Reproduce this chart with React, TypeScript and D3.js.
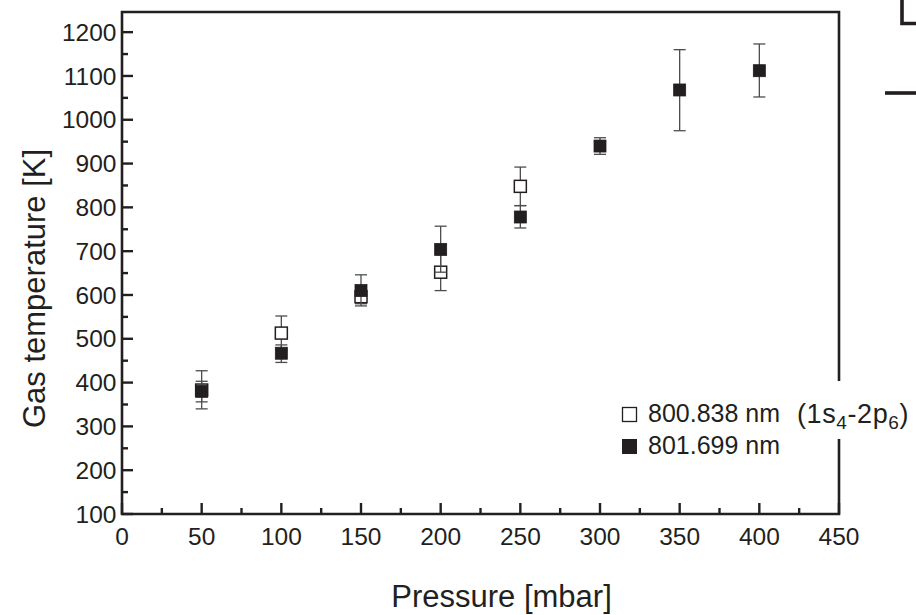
import React from 'react';
import * as d3 from 'd3';

// ---- data ----
const openPressure = [50, 100, 150, 200, 250];
const openTemp = [383, 513, 596, 652, 848];
const openLow = [340, 474, 580, 610, 804];
const openHigh = [427, 552, 612, 695, 892];

const filledPressure = [50, 100, 150, 200, 250, 300, 350, 400];
const filledTemp = [380, 467, 610, 704, 778, 940, 1068, 1112];
const filledLow = [356, 446, 575, 652, 753, 921, 975, 1052];
const filledHigh = [403, 486, 646, 757, 804, 959, 1160, 1173];

const xMajorTicks = [0, 50, 100, 150, 200, 250, 300, 350, 400, 450];
const xMinorTicks = [25, 75, 125, 175, 225, 275, 325, 375, 425];
const yMajorTicks = [100, 200, 300, 400, 500, 600, 700, 800, 900, 1000, 1100, 1200];
const yMinorTicks = [150, 250, 350, 450, 550, 650, 750, 850, 950, 1050, 1150];

const legendLabels = ['800.838 nm', '801.699 nm'];
const xTitle = 'Pressure [mbar]';
const yTitle = 'Gas temperature [K]';

const INK = '#231f20';
const ERR = '#4d4d4d';
const FONT = '"Liberation Sans", Arial, Helvetica, sans-serif';

export default function App() {
  const left = 122, right = 839, top = 12, bottom = 514;
  const x = d3.scaleLinear().domain([0, 450]).range([left, right]);
  const y = d3.scaleLinear().domain([100, 1246]).range([bottom, top]);
  const ms = 12;
  const cap = 6;

  const errBar = (px: number, lo: number, hi: number, key: string) => {
    const cx = x(px);
    return (
      <g key={key} stroke={ERR} strokeWidth={1.3}>
        <line x1={cx} x2={cx} y1={y(lo)} y2={y(hi)} />
        <line x1={cx - cap} x2={cx + cap} y1={y(lo)} y2={y(lo)} />
        <line x1={cx - cap} x2={cx + cap} y1={y(hi)} y2={y(hi)} />
      </g>
    );
  };

  return (
    <svg width={916} height={615} style={{ position: 'absolute', left: 0, top: 0, background: '#fff' }} fontFamily={FONT}>
      <rect x={0} y={0} width={916} height={615} fill="#fff" />

      {/* open series */}
      {openPressure.map((p, i) => errBar(p, openLow[i], openHigh[i], 'oe' + i))}
      {openPressure.map((p, i) => (
        <rect key={'o' + i} x={x(p) - ms / 2} y={y(openTemp[i]) - ms / 2} width={ms} height={ms}
          fill="#fff" stroke={INK} strokeWidth={1.5} />
      ))}

      {/* filled series */}
      {filledPressure.map((p, i) => errBar(p, filledLow[i], filledHigh[i], 'fe' + i))}
      {filledPressure.map((p, i) => (
        <rect key={'f' + i} x={x(p) - ms / 2} y={y(filledTemp[i]) - ms / 2} width={ms} height={ms}
          fill={INK} stroke={INK} strokeWidth={0.8} />
      ))}

      {/* frame */}
      <path d={`M${left},${bottom}L${left},${top}L${right},${top}L${right},${bottom}Z`} fill="none" stroke={INK} strokeWidth={2.6} />
      <rect x={right - 5} y={381} width={10} height={58} fill="#fff" />

      {/* x ticks */}
      {xMajorTicks.map((t) => (
        <g key={'xt' + t}>
          <line x1={x(t)} x2={x(t)} y1={bottom} y2={bottom - 11} stroke={INK} strokeWidth={2.4} />
          <text x={x(t)} y={545} textAnchor="middle" fontSize={24.5} fill={INK}>{t}</text>
        </g>
      ))}
      {xMinorTicks.map((t) => (
        <line key={'xm' + t} x1={x(t)} x2={x(t)} y1={bottom} y2={bottom - 6} stroke={INK} strokeWidth={2.4} />
      ))}

      {/* y ticks */}
      {yMajorTicks.map((t) => (
        <g key={'yt' + t}>
          <line x1={left} x2={left + 11} y1={y(t)} y2={y(t)} stroke={INK} strokeWidth={2.4} />
          <text x={116.5} y={y(t)} dy="0.35em" textAnchor="end" fontSize={24.5} fill={INK}>{t}</text>
        </g>
      ))}
      {yMinorTicks.map((t) => (
        <line key={'ym' + t} x1={left} x2={left + 6} y1={y(t)} y2={y(t)} stroke={INK} strokeWidth={2.4} />
      ))}

      {/* axis titles */}
      <text x={501.5} y={607} textAnchor="middle" fontSize={31} fill={INK}>{xTitle}</text>
      <text transform="translate(45,288.5) rotate(-90)" textAnchor="middle" fontSize={31} fill={INK}>{yTitle}</text>

      {/* legend */}
      <rect x={622.5} y={407.5} width={14} height={14} fill="#fff" stroke={INK} strokeWidth={1.3} />
      <text x={648} y={422} fontSize={25} fill={INK}>{legendLabels[0]}</text>
      <rect x={622} y={439} width={15} height={15} fill={INK} />
      <text x={648} y={454} fontSize={25} fill={INK}>{legendLabels[1]}</text>

      {/* transition label */}
      <text x={797} y={423} fontSize={27} fill={INK} letterSpacing={0.6}>
        (1s<tspan fontSize={19} dy={6}>4</tspan><tspan dy={-6}>-2p</tspan><tspan fontSize={19} dy={6}>6</tspan><tspan dy={-6}>)</tspan>
      </text>

      {/* cropped neighbouring figure fragments */}
      <path d="M902,0L902,23.5L916,23.5" fill="none" stroke={INK} strokeWidth={3.6} />
      <line x1={885} x2={916} y1={93} y2={93} stroke={INK} strokeWidth={3.6} />
    </svg>
  );
}
